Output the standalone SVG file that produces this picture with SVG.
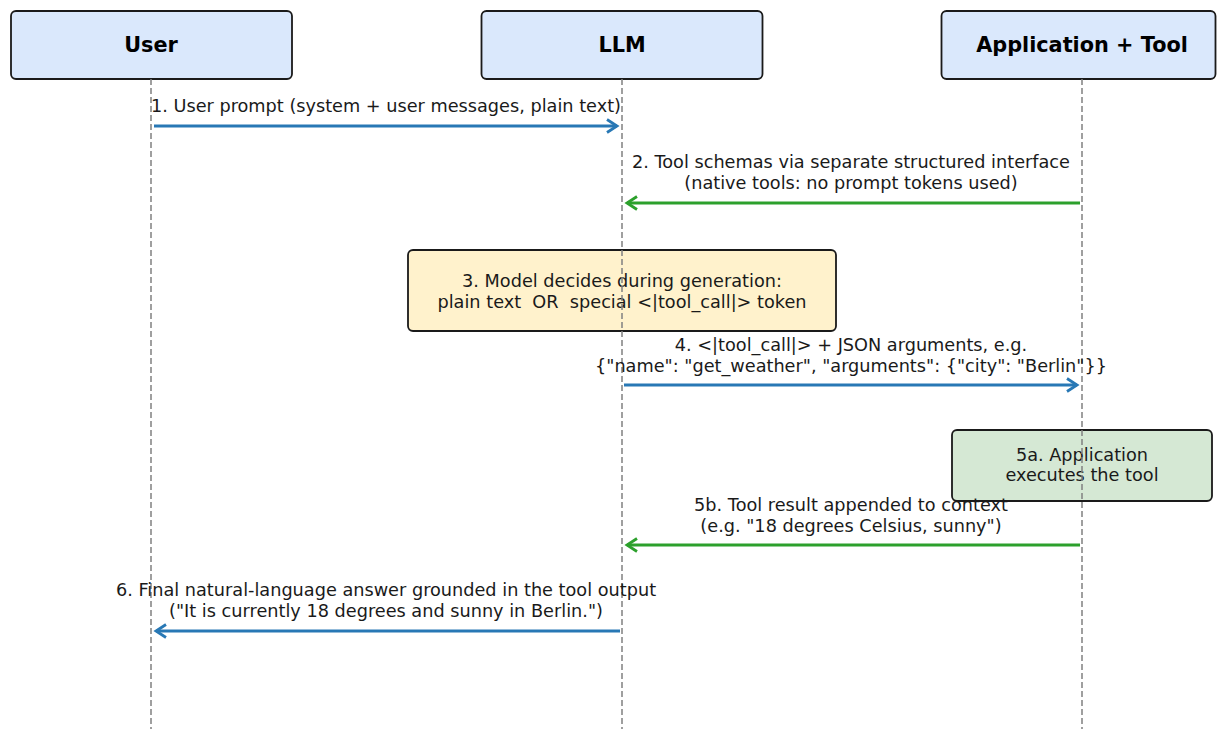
<svg xmlns="http://www.w3.org/2000/svg" width="1217" height="729" viewBox="0 0 1217 729">
<style>
.hdr{fill:#dae8fc;stroke:#1a1a1a;stroke-width:1.8}
.ht{font-family:"DejaVu Sans",sans-serif;font-size:20.8px;font-weight:bold;fill:#000;text-anchor:middle}
.lt{font-family:"DejaVu Sans",sans-serif;font-size:17.7px;fill:#1a1a1a;text-anchor:middle;white-space:pre}
.life{stroke:#808080;stroke-width:1.5;stroke-dasharray:6,3;fill:none}
.blue{stroke:#2878b5;stroke-width:2.8;fill:none;marker-end:url(#ab)}
.green{stroke:#2ca02c;stroke-width:2.8;fill:none;marker-end:url(#ag)}
</style>
<defs>
<marker id="ab" markerWidth="16" markerHeight="16" refX="12" refY="8" orient="auto" markerUnits="userSpaceOnUse"><path d="M2,1.5 L12,8 L2,14.5" fill="none" stroke="#2878b5" stroke-width="2.8"/></marker>
<marker id="ag" markerWidth="16" markerHeight="16" refX="12" refY="8" orient="auto" markerUnits="userSpaceOnUse"><path d="M2,1.5 L12,8 L2,14.5" fill="none" stroke="#2ca02c" stroke-width="2.8"/></marker>
</defs>
<rect width="1217" height="729" fill="#fff"/>
<g id="user"><rect class="hdr" x="11" y="11" width="281" height="68" rx="5"/><text class="ht" x="151" y="51.5">User</text></g>
<g id="llm"><rect class="hdr" x="481.5" y="11" width="281" height="68" rx="5"/><text class="ht" x="622" y="51.5">LLM</text></g>
<g id="app"><rect class="hdr" x="941.5" y="11" width="274" height="68" rx="5"/><text class="ht" x="1082" y="51.5">Application + Tool</text></g>
<g id="decide"><rect x="408" y="250" width="428" height="81" rx="5" fill="#fff2cc" stroke="#1a1a1a" stroke-width="1.8"/><text class="lt" x="622" y="287">3. Model decides during generation:</text><text class="lt" x="622" y="308">plain text  OR  special &lt;|tool_call|&gt; token</text></g>
<g id="exec"><rect x="952" y="430" width="260" height="71" rx="5" fill="#d5e8d4" stroke="#1a1a1a" stroke-width="1.8"/><text class="lt" x="1082" y="461">5a. Application</text><text class="lt" x="1082" y="481">executes the tool</text></g>
<g id="lifelines"><line class="life" x1="151" y1="79" x2="151" y2="729"/><line class="life" x1="622" y1="79" x2="622" y2="729"/><line class="life" x1="1082" y1="79" x2="1082" y2="729"/></g>
<g id="connectors">
<line class="blue" x1="154" y1="126" x2="617" y2="126"/>
<text class="lt" x="386" y="112">1. User prompt (system + user messages, plain text)</text>
<line class="green" x1="1080" y1="203" x2="627" y2="203"/>
<text class="lt" x="851" y="168">2. Tool schemas via separate structured interface</text>
<text class="lt" x="851" y="189">(native tools: no prompt tokens used)</text>
<line class="blue" x1="624" y1="385" x2="1077" y2="385"/>
<text class="lt" x="851" y="351">4. &lt;|tool_call|&gt; + JSON arguments, e.g.</text>
<text class="lt" x="851" y="372">{"name": "get_weather", "arguments": {"city": "Berlin"}}</text>
<line class="green" x1="1080" y1="545" x2="627" y2="545"/>
<text class="lt" x="851" y="511">5b. Tool result appended to context</text>
<text class="lt" x="851" y="532">(e.g. "18 degrees Celsius, sunny")</text>
<line class="blue" x1="620" y1="631" x2="156" y2="631"/>
<text class="lt" x="386" y="596">6. Final natural-language answer grounded in the tool output</text>
<text class="lt" x="386" y="617">("It is currently 18 degrees and sunny in Berlin.")</text>
</g>
</svg>
